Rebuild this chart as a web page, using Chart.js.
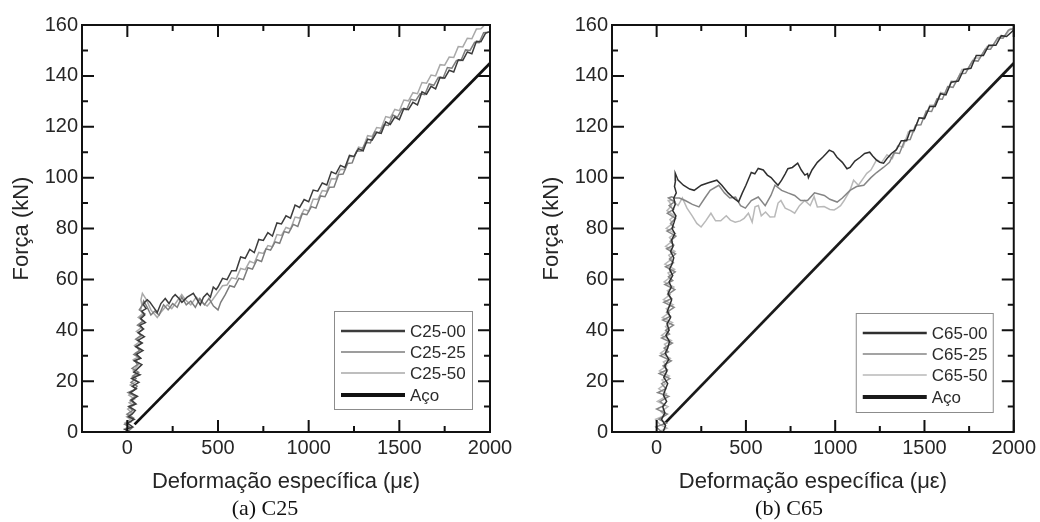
<!DOCTYPE html>
<html>
<head>
<meta charset="utf-8">
<script src="https://cdn.jsdelivr.net/npm/chart.js@4.4.0/dist/chart.umd.min.js"></script>
<style>
  body { margin: 0; background: #fff; }
  #wrap { position: relative; width: 1040px; height: 522px; }
  canvas { position: absolute; top: 0; }
  .cap {
    position: absolute; top: 495px; width: 200px; text-align: center;
    font: 22px "Liberation Serif", "Times New Roman", serif; color: #111; line-height: 26px;
  }
</style>
</head>
<body>
<div id="wrap">
  <canvas id="chartA" width="520" height="522" style="left:0"></canvas>
  <canvas id="chartB" width="520" height="522" style="left:520px"></canvas>
  <div class="cap" style="left:165px">(a) C25</div>
  <div class="cap" style="left:689px">(b) C65</div>
</div>
<script>
// axis ticks
const xTicks = [0, 500, 1000, 1500, 2000];
const yTicks = [0, 20, 40, 60, 80, 100, 120, 140, 160];
const xMinor = [250, 750, 1250, 1750];
const yMinor = [10, 30, 50, 70, 90, 110, 130, 150];

const c25Labels = ["C25-00", "C25-25", "C25-50", "Aço"];
const c65Labels = ["C65-00", "C65-25", "C65-50", "Aço"];

// [deformação (µε), força (kN)]
const c25_00 = [
  [10,0],[-12,1],[30,2],[0,3.5],[38,5],[6,6],[26,7],[44,8.5],[10,10],[48,11],[22,12.5],[56,14],[16,15.5],
  [50,17],[28,18],[64,19.5],[24,21],[70,22.5],[36,23.5],[58,25],[80,26.5],[38,28],[74,29],[50,30.5],
  [86,32],[46,33.5],[82,35],[58,36],[94,37.5],[60,39],[88,40.5],[70,42],[100,43],[74,44.5],[96,46],
  [80,47.5],[104,48.5],[88,50],[96,51],
  [110,52],[125,51],[140,49.5],[165,47],[185,50.5],[209,52.5],[230,50.5],[250,53],[264,54],[285,52.5],
  [301,51],[330,53],[364,54.5],[385,52],[402,50],[420,53],[440,54.5],[458,53],[474,57],[490,56],
  [500,57],[525,60.4],[550,59.9],[575,63.4],[600,63.4],[625,68.8],[650,68.3],[675,71.8],[700,70.5],
  [725,75.7],[750,75.3],[775,78.4],[800,77],[825,82.2],[850,81.8],[875,85],[900,84.1],[925,89.2],
  [950,88.3],[975,91.4],[1000,90.5],[1025,95.1],[1050,94.7],[1075,97.9],[1100,97.1],[1125,102.3],
  [1150,101.5],[1175,104.8],[1200,104],[1225,108.7],[1250,108.3],[1275,111.4],[1300,110.5],[1325,115.1],
  [1350,114.7],[1375,117.8],[1400,117.4],[1425,121.9],[1450,120.9],[1475,123.8],[1500,122.8],[1525,127.2],
  [1550,126.7],[1575,129.6],[1600,128.6],[1625,133.7],[1650,132.8],[1675,135.9],[1700,134.9],[1725,139.5],
  [1750,139.1],[1775,142.2],[1800,141.5],[1825,146.3],[1850,146.1],[1875,149.4],[1900,148.7],[1925,153.6],
  [1950,153.4],[1975,156.7],[2000,157.5]
];
const c25_25 = [
  [0,0],[24,1.5],[-14,3],[20,4],[34,5.5],[-2,7],[30,8.5],[6,10],[40,11],[16,12.5],[44,14],[4,15.5],
  [36,16.5],[54,18],[20,19.5],[48,21],[30,22],[62,23.5],[26,25],[56,26.5],[42,28],[72,29],[36,30.5],
  [68,32],[50,33.5],[80,35],[46,36.5],[76,38],[60,39],[90,40.5],[56,42],[84,43.5],[70,45],[96,46.5],
  [66,48],[84,50],[90,51.5],
  [110,49],[130,46],[150,47.5],[175,46],[200,50],[225,48],[250,50.5],[275,49],[300,53],[325,50],
  [350,51.5],[375,49],[400,52.5],[425,50],[450,52.5],[475,49.5],[500,48],[515,51],[540,54],
  [565,57.5],[590,57],[615,60.4],[640,59.9],[665,64.6],[690,64],[715,67.7],[740,67],[765,72],[790,71.5],
  [815,74.7],[840,74.2],[865,78.8],[890,78.3],[915,81.6],[940,80.8],[965,85.8],[990,85.4],[1015,88.6],
  [1040,88],[1065,92.8],[1090,92.5],[1115,96.2],[1140,96.3],[1165,101.2],[1190,101.4],[1215,105.6],
  [1240,105.8],[1265,110.5],[1290,110.5],[1315,113.8],[1340,113.6],[1365,118],[1390,117.6],[1415,120.8],
  [1440,120.5],[1465,124.6],[1490,123.8],[1515,127],[1540,126.7],[1565,130.8],[1590,130.3],[1615,133],
  [1640,132.6],[1665,136.8],[1690,136.3],[1715,139.4],[1740,139],[1765,143.3],[1790,143],[1815,146],
  [1840,146],[1865,150.2],[1890,150],[1915,153.2],[1940,153],[1965,157],[1990,157.2]
];
const c25_50 = [
  [-22,1],[8,2],[-14,3.5],[18,5],[-4,6],[26,7.5],[2,9],[34,10.5],[10,11.5],[40,13],[8,14.5],[30,16],
  [46,17],[16,18.5],[52,20],[26,21.5],[58,22.5],[32,24],[50,25.5],[66,27],[34,28.5],[62,29.5],[44,31],
  [76,32.5],[40,34],[70,35.5],[54,36.5],[84,38],[50,39.5],[78,41],[64,42],[92,43.5],[60,45],[84,46.5],
  [74,48],[80,50],[75,52],[83,54.5],
  [105,52],[130,48],[165,45],[190,47.5],[220,50],[245,48.5],[270,51],[300,54],[320,52],[350,50],
  [380,53],[410,51],[440,49.5],[470,52],[500,55],
  [525,57.5],[550,57.8],[575,60.6],[600,60.2],[625,64.3],[650,63.8],[675,67.1],[700,66.4],[725,70.6],
  [750,70.2],[775,73.3],[800,72.8],[825,77.6],[850,77.3],[875,80.4],[900,79.8],[925,84.5],[950,84.1],
  [975,87.5],[1000,86.8],[1025,91.6],[1050,91.4],[1075,94.9],[1100,94.6],[1125,99.6],[1150,99.5],
  [1175,103.3],[1200,103.2],[1225,108.2],[1250,108.3],[1275,112],[1300,111.6],[1325,116.5],[1350,116.2],
  [1375,119.7],[1400,119.4],[1425,124],[1450,123.5],[1475,126.8],[1500,126.3],[1525,130.5],[1550,130.2],
  [1575,133.4],[1600,133],[1625,137.4],[1650,137.1],[1675,140.3],[1700,140],[1725,144.4],[1750,144.2],
  [1775,147.4],[1800,147.2],[1825,151.5],[1850,151.4],[1875,154.8],[1900,154.6],[1925,158.4],[1950,158.5],
  [1970,160],[1990,160]
];

const c65_00 = [
  [36,0],[50,2.5],[28,5],[46,7.5],[34,10],[56,12],[38,14.5],[50,17],[62,19],[40,21.5],[58,24],[46,26],
  [68,28.5],[48,31],[62,33],[72,35.5],[52,38],[70,40],[58,42.5],[78,45],[60,47.5],[74,50],[84,52],
  [64,54.5],[82,57],[70,59],[90,61.5],[72,64],[86,66],[96,68.5],[78,71],[92,73],[84,75.5],[102,78],
  [86,80],[98,82.5],[108,85],[90,87],[104,89.5],[96,92],[110,94],[100,96.5],[106,99],[104,101.8],
  [120,99],[150,97],[185,95.5],[210,95],[250,97],[290,98],[337,99],[365,97],[400,94],[430,92],[459,90.5],
  [480,94],[500,97],[530,102],[550,101.5],[569,103.6],[597,103],[620,101],[641,100],[660,98.5],[680,97],
  [700,99],[720,101.5],[735,103.5],[760,104],[790,105.7],[810,103],[830,101],[845,101.6],[850,100],
  [870,103],[900,106],[930,108],[950,109.5],[967,110.8],[990,110],[1010,108],[1040,106],[1066,103.5],
  [1083,104],[1110,106.5],[1140,108],[1165,109.5],[1193,110],[1210,108.5],[1230,107],[1250,106],
  [1271,105.7],[1290,107.5],[1315,109.5],[1343,111],
  [1370,114.5],[1400,114.5],[1420,118.5],[1442,118.5],[1470,123.5],[1500,123.2],[1530,128],[1560,128],
  [1590,133],[1620,132.5],[1650,137.5],[1690,138],[1720,142.5],[1760,143],[1790,148],[1830,148],
  [1860,152],[1900,152],[1930,155.8],[1960,155.5],[2000,158]
];
const c65_25 = [
  [30,0],[-4,2],[54,3.5],[12,5],[60,7],[0,9],[46,10.5],[20,12],[68,14],[6,15.5],[52,17],[28,19],[74,21],
  [14,23],[60,24.5],[36,26],[82,28],[20,30],[66,31.5],[42,33],[88,35],[28,37],[72,38.5],[50,40],[94,42],
  [34,44],[78,45.5],[56,47],[98,49],[40,51],[84,52.5],[62,54],[102,56],[46,58],[90,59.5],[66,61],
  [104,63],[50,65],[94,66.5],[72,68],[106,70],[56,72],[96,73.5],[76,75],[108,77],[58,79],[98,80.5],
  [78,82],[106,84],[60,86],[94,87.5],[70,89],[100,90.5],[66,92],[84,92.5],
  [100,92],[127,92],[160,91],[200,89.5],[237,88.5],[270,92],[300,95],[348,97],[380,94],[410,92],
  [442,92.4],[470,89],[497,88],[530,91],[569,92.4],[608,89],[640,93],[663,97],[700,95],[735,94],
  [773,93],[807,91],[845,91],[884,94],[939,93],[970,91.5],[1011,90.4],[1040,92],[1083,95],[1120,96.5],
  [1160,97],[1200,100],[1232,102],[1270,104],[1304,106],
  [1330,109.8],[1360,109.5],[1390,114.8],[1420,115],[1450,120.6],[1480,120.8],[1510,126.2],[1540,126],
  [1570,131],[1600,130.8],[1630,135.8],[1660,135.5],[1700,140.8],[1730,141],[1770,146],[1800,145.8],
  [1840,150.5],[1870,150.5],[1910,155],[1940,154.8],[1970,158],[2000,158.5]
];
const c65_50 = [
  [40,-3],[8,0],[58,1.5],[18,3],[-6,5],[46,6.5],[24,8],[64,10],[4,12],[40,13.5],[56,15],[12,17],[50,19],
  [30,20.5],[70,22],[16,24],[56,26],[38,27.5],[76,29],[22,31],[62,33],[44,34.5],[82,36],[28,38],[66,40],
  [50,41.5],[88,43],[32,45],[72,47],[54,48.5],[92,50],[38,52],[76,54],[60,55.5],[96,57],[42,59],[80,61],
  [64,62.5],[100,64],[46,66],[84,68],[68,69.5],[102,71],[50,73],[88,75],[72,76.5],[104,78],[54,80],
  [90,82],[74,83.5],[100,85],[58,87],[84,89],[66,91],[60,91],
  [90,91],[120,89],[144,92],[170,88],[199,85],[225,82],[249,80.6],[275,83],[304,86],[330,83],[359,83],
  [390,85],[413,83.3],[440,82.5],[468,83],[490,84],[514,86],[535,82.5],[551,88.5],[570,89],[586,85],
  [610,86.5],[635,84.5],[661,84.6],[680,90],[696,91],[720,88],[750,87],[773,86],[800,89],[829,91],
  [860,89],[882,92.5],[900,88.5],[938,88.6],[970,87.5],[994,87.3],[1011,88],[1030,89],[1050,91],
  [1083,95],[1103,99],[1130,97],[1160,100],[1177,101.7],[1200,103],[1232,107],[1260,106],[1290,109],
  [1320,107.5],[1350,112.5],[1380,112],[1410,118],[1440,118],[1470,123.5],[1500,123.5],[1530,128.5],
  [1560,128.5],[1590,133.5],[1620,133],[1650,138],[1680,137.8],[1710,142.5],[1740,142.5],[1780,147],
  [1810,147],[1850,151.5],[1880,151.5],[1920,155.5],[1950,155.5],[1980,158.5],[2000,158.5]
];

// steel reference line
const aco = [[40, 3], [2000, 145]];

// frame + inward ticks on all four sides
const frameTicks = {
  id: "frameTicks",
  afterDraw(chart) {
    const { ctx, chartArea: a, scales: { x, y } } = chart;
    ctx.save();
    ctx.strokeStyle = "#111";
    ctx.lineWidth = 2;
    ctx.strokeRect(a.left, a.top, a.right - a.left, a.bottom - a.top);
    ctx.beginPath();
    const xt = (v, len) => {
      const px = x.getPixelForValue(v);
      ctx.moveTo(px, a.bottom); ctx.lineTo(px, a.bottom - len);
      ctx.moveTo(px, a.top); ctx.lineTo(px, a.top + len);
    };
    const yt = (v, len) => {
      const py = y.getPixelForValue(v);
      ctx.moveTo(a.left, py); ctx.lineTo(a.left + len, py);
      ctx.moveTo(a.right, py); ctx.lineTo(a.right - len, py);
    };
    xTicks.forEach((v) => xt(v, 12));
    xMinor.forEach((v) => xt(v, 6));
    yTicks.forEach((v) => yt(v, 12));
    yMinor.forEach((v) => yt(v, 6));
    ctx.stroke();
    ctx.restore();
  },
};

// boxed legend sitting in the lower right of the plot
const boxLegend = {
  id: "boxLegend",
  afterDraw(chart, args, opts) {
    const { ctx, chartArea: a } = chart;
    const left = a.right - opts.right - opts.width;
    const top = a.bottom - opts.bottom - opts.height;
    ctx.save();
    ctx.fillStyle = "#fff";
    ctx.fillRect(left, top, opts.width, opts.height);
    ctx.strokeStyle = "#8c8c8c";
    ctx.lineWidth = 1;
    ctx.strokeRect(left + 0.5, top + 0.5, opts.width, opts.height);
    ctx.font = '17px "Liberation Sans", Arial, sans-serif';
    ctx.textBaseline = "middle";
    chart.data.datasets.forEach((ds, i) => {
      const yy = top + opts.rows[i];
      ctx.strokeStyle = ds.borderColor;
      ctx.lineWidth = ds.legendWidth;
      ctx.beginPath();
      ctx.moveTo(left + 7, yy);
      ctx.lineTo(left + 71, yy);
      ctx.stroke();
      ctx.fillStyle = "#2b2b2b";
      ctx.fillText(ds.label, left + 76, yy + 1);
    });
    ctx.restore();
  },
};

const textColor = "#262626";
const family = '"Liberation Sans", Arial, sans-serif';

function makeChart(id, labels, series, colors, layout) {
  const widths = [1.5, 1.5, 1.5, 2.8];
  const legendWidths = [2.4, 1.6, 1.6, 4];
  return new Chart(document.getElementById(id), {
    type: "line",
    data: {
      datasets: series.map((d, i) => ({
        label: labels[i],
        data: d,
        borderColor: colors[i],
        borderWidth: widths[i],
        legendWidth: legendWidths[i],
        pointRadius: 0,
        tension: 0,
        fill: false,
      })),
    },
    options: {
      responsive: false,
      animation: false,
      devicePixelRatio: 1,
      layout: { padding: { top: 25, right: layout.padRight, left: 0, bottom: 0 } },
      plugins: {
        legend: { display: false },
        tooltip: { enabled: false },
        boxLegend: layout.legend,
      },
      scales: {
        x: {
          type: "linear",
          min: -250,
          max: 2000,
          grid: { display: false, drawTicks: false },
          border: { display: false },
          afterBuildTicks: (s) => { s.ticks = xTicks.map((v) => ({ value: v })); },
          afterFit: (s) => { s.height = 90; },
          ticks: { color: textColor, padding: 4, font: { family, size: 20 }, callback: (v) => String(v) },
          title: {
            display: true,
            text: "Deformação específica (με)",
            color: textColor,
            font: { family, size: 22 },
            padding: { top: 0, bottom: 27 },
          },
        },
        y: {
          min: 0,
          max: 160,
          grid: { display: false, drawTicks: false },
          border: { display: false },
          afterBuildTicks: (s) => { s.ticks = yTicks.map((v) => ({ value: v })); },
          afterFit: (s) => { s.width = layout.yWidth; },
          ticks: { color: textColor, padding: 4, font: { family, size: 20 } },
          title: {
            display: true,
            text: "Força (kN)",
            color: textColor,
            font: { family, size: 22 },
            padding: { top: layout.yTitlePad, bottom: 0 },
          },
        },
      },
    },
    plugins: [frameTicks, boxLegend],
  });
}

makeChart("chartA", c25Labels, [c25_00, c25_25, c25_50, aco],
  ["#3c3c3c", "#7d7d7d", "#a9a9a9", "#111"],
  { yWidth: 82, padRight: 30, yTitlePad: 9,
    legend: { right: 18, bottom: 23, width: 138, height: 98, rows: [20, 41, 62, 84] } });

makeChart("chartB", c65Labels, [c65_00, c65_25, c65_50, aco],
  ["#2f2f2f", "#858585", "#b9b9b9", "#1a1a1a"],
  { yWidth: 92, padRight: 21, yTitlePad: 19,
    legend: { right: 21, bottom: 20, width: 137, height: 99, rows: [20, 41, 62, 84] } });
</script>
</body>
</html>
